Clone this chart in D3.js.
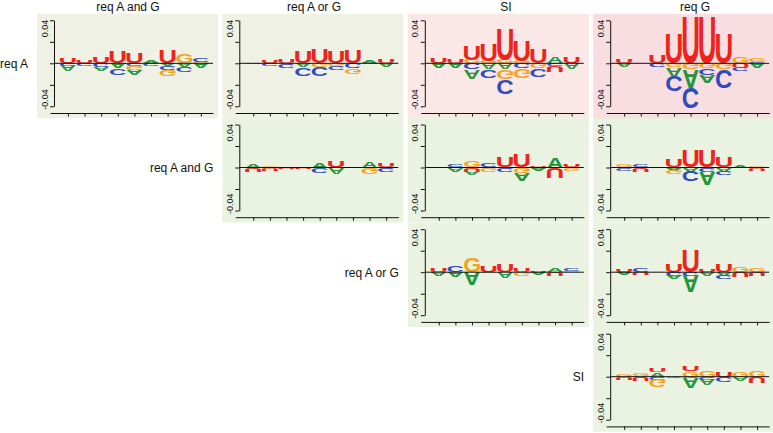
<!DOCTYPE html>
<html>
<head>
<meta charset="utf-8">
<script src="https://cdn.jsdelivr.net/npm/d3@7"></script>
<style>
  html, body { margin: 0; padding: 0; background: #ffffff; }
  svg { display: block; }
  text { font-family: "Liberation Sans", Arial, Helvetica, sans-serif; }
</style>
</head>
<body>
<svg id="chart" width="773" height="433"></svg>
<script>
// ---------------- data ----------------
const columnTitles = ["req A and G", "req A or G", "SI", "req G"];
const rowLabels = ["req A", "req A and G", "req A or G", "SI"];
const positions = [1, 2, 3, 4, 5, 6, 7, 8, 9];
const yTickValues = [-0.04, -0.02, 0, 0.02, 0.04];
const yTickLabels = ["-0.04", "", "", "", "0.04"];

// per-position letter differences (positive above axis, negative below)
const reqA_vs_reqAandG = [
  {U: 0.005, A: -0.006, C: -0.002},
  {C: -0.002, U: 0.002},
  {U: 0.006, A: -0.004, C: -0.003},
  {U: 0.011, A: -0.005, C: -0.006},
  {U: 0.010, G: -0.004, A: -0.005, C: -0.002},
  {A: 0.002, C: -0.002},
  {U: 0.0125, A: -0.002, C: -0.004, G: -0.006},
  {G: 0.009, A: -0.003, C: -0.005},
  {C: 0.003, G: 0.001, A: -0.005}
];
const reqA_vs_reqAorG = [
  {C: -0.001},
  {U: 0.002, C: -0.002},
  {U: 0.004, A: -0.001, C: -0.003},
  {U: 0.011, A: -0.004, C: -0.007},
  {U: 0.013, G: -0.003, C: -0.008},
  {U: 0.011, G: -0.002, C: -0.004},
  {U: 0.012, C: -0.005, G: -0.005},
  {A: 0.002, C: -0.001},
  {U: 0.003, A: -0.004}
];
const reqA_vs_SI = [
  {U: 0.005, A: -0.005},
  {U: 0.004, A: -0.005},
  {G: 0.003, U: 0.013, C: -0.006, A: -0.008},
  {G: 0.002, U: 0.015, A: -0.006, C: -0.007},
  {G: 0.003, U: 0.029, A: -0.006, G2: -0.009, C: -0.013},
  {G: 0.002, U: 0.019, C: -0.005, G2: -0.009},
  {U: 0.013, G: -0.005, C: -0.007},
  {A: 0.006, C: -0.002, U: -0.006},
  {U: 0.006, A: -0.006}
];
const reqA_vs_reqG = [
  {U: 0.0035, A: -0.004},
  {},
  {U: 0.0075, C: -0.004},
  {U: 0.028, G: -0.004, A: -0.008, C: -0.015},
  {U: 0.043, G: -0.006, A: -0.017, C: -0.020},
  {U: 0.043, G: -0.005, A: -0.007, C: -0.0055},
  {U: 0.028, G: -0.006, C: -0.017},
  {G: 0.006, U: -0.003, C: -0.004},
  {G: 0.004, C: 0.001, A: -0.005}
];
const reqAandG_vs_reqAorG = [
  {A: 0.003, U: -0.004},
  {G: 0.001, U: -0.002},
  {A: 0.001, U: -0.001},
  {U: -0.001},
  {A: 0.005, C: -0.005},
  {U: 0.006, A: -0.006},
  {},
  {A: 0.006, G: -0.006},
  {U: 0.003, C: -0.004}
];
const reqAandG_vs_SI = [
  {},
  {C: 0.002, A: -0.003},
  {G: 0.006, U: -0.003, A: -0.004},
  {C: 0.003, G: -0.003},
  {U: 0.009, C: -0.004},
  {U: 0.012, G: -0.005, A: -0.007},
  {U: 0.001, A: -0.002},
  {A: 0.010, U: -0.010},
  {U: 0.002, G: -0.002}
];
const reqAandG_vs_reqG = [
  {G: 0.002, C: -0.002},
  {C: 0.002, U: -0.004},
  {},
  {U: 0.007, G: -0.003, A: -0.002},
  {U: 0.016, A: -0.003, C: -0.010},
  {U: 0.016, C: -0.004, A: -0.012},
  {U: 0.009, A: -0.003, C: -0.004},
  {A: 0.002},
  {G: 0.001, U: -0.002}
];
const reqAorG_vs_SI = [
  {U: 0.004, A: -0.003},
  {C: 0.006, A: -0.005},
  {G: 0.013, A: -0.012},
  {U: 0.006, A: -0.001},
  {U: 0.007, A: -0.006},
  {U: 0.003, G: -0.004},
  {U: 0.001, A: -0.002},
  {A: 0.004, U: -0.003},
  {C: 0.002, G: 0.001}
];
const reqAorG_vs_reqG = [
  {U: 0.002, A: -0.002},
  {C: 0.003, U: -0.002},
  {},
  {U: 0.007, C: -0.003, A: -0.003},
  {U: 0.021, C: -0.003, A: -0.016},
  {U: 0.002, A: -0.003},
  {U: 0.007, A: -0.003, C: -0.004},
  {G: 0.005, U: -0.005},
  {G: 0.004, U: -0.004}
];
const SI_vs_reqG = [
  {G: 0.002, U: -0.002},
  {G: 0.002, A: 0.001, U: -0.003},
  {A: 0.004, U: 0.004, C: -0.002, G: -0.007},
  {C: -0.001},
  {G: 0.005, U: 0.005, C: -0.001, A: -0.009},
  {G: 0.006, C: -0.002, A: -0.006},
  {U: 0.005, C: -0.005},
  {G: 0.005, A: -0.004},
  {G: 0.006, U: -0.006}
];

// ---------------- layout / style ----------------
const axisX = [54, 239.3, 424.8, 610.2];
const zeroY = [63.3, 167.5, 272.2, 376.7];
const titleX = [128, 314, 506, 695];
const letterColor = {A: "#22963a", C: "#2f4bbd", G: "#f5a21e", U: "#ee231a"};

const panels = [
  {row: 0, col: 0, bg: "#eff1e4", data: reqA_vs_reqAandG},
  {row: 0, col: 1, bg: "#eff1e4", data: reqA_vs_reqAorG},
  {row: 0, col: 2, bg: "#fce7e7", data: reqA_vs_SI},
  {row: 0, col: 3, bg: "#f9dee1", data: reqA_vs_reqG},
  {row: 1, col: 1, bg: "#eaf3e2", data: reqAandG_vs_reqAorG},
  {row: 1, col: 2, bg: "#eaf3e2", data: reqAandG_vs_SI},
  {row: 1, col: 3, bg: "#eaf3e2", data: reqAandG_vs_reqG},
  {row: 2, col: 2, bg: "#eaf3e2", data: reqAorG_vs_SI},
  {row: 2, col: 3, bg: "#eaf3e2", data: reqAorG_vs_reqG},
  {row: 3, col: 3, bg: "#eaf3e2", data: SI_vs_reqG}
];

// glyph ink metrics
const FONT_PX = 100;
const glyphFont = `bold ${FONT_PX}px "Liberation Sans", Arial, sans-serif`;
const ctx = document.createElement("canvas").getContext("2d");
ctx.font = glyphFont;
const metrics = {};
["A", "C", "G", "U"].forEach(ch => {
  const m = ctx.measureText(ch);
  metrics[ch] = {
    left: m.actualBoundingBoxLeft,
    right: m.actualBoundingBoxRight,
    ascent: m.actualBoundingBoxAscent,
    descent: m.actualBoundingBoxDescent
  };
});

const svg = d3.select("#chart");

// column titles
svg.selectAll("text.coltitle").data(columnTitles).join("text")
  .attr("class", "coltitle")
  .attr("x", (d, i) => titleX[i])
  .attr("y", 11)
  .attr("text-anchor", "middle")
  .attr("font-size", 12)
  .attr("fill", "#111")
  .text(d => d);

panels.forEach(p => {
  const ax = axisX[p.col];
  const z = zeroY[p.row];
  const g = svg.append("g");

  const y = d3.scaleLinear().domain([-0.04, 0.04]).range([z + 43, z - 43]);
  const x = d3.scaleLinear().domain([-0.08, 9.73]).range([ax - 4, ax + 159]);

  g.append("rect")
    .attr("x", ax - 17).attr("y", z - 49.5)
    .attr("width", 181).attr("height", 104.5)
    .attr("fill", p.bg);

  // letters
  const lg = g.append("g");
  positions.forEach((pos, i) => {
    const entries = Object.entries(p.data[i] || {}).map(([k, v]) => ({ch: k[0], v}));
    const pos_ = entries.filter(e => e.v > 0).sort((a, b) => a.v - b.v);
    const neg_ = entries.filter(e => e.v < 0).sort((a, b) => b.v - a.v);
    const x0 = x(pos - 0.5) + 0.4;
    const w = x(pos + 0.5) - x(pos - 0.5) - 0.8;
    let acc = 0;
    pos_.forEach(e => {
      const top = y(acc + e.v), bot = y(acc);
      drawLetter(lg, e.ch, x0, top, w, bot - top, false);
      acc += e.v;
    });
    acc = 0;
    neg_.forEach(e => {
      const top = y(acc), bot = y(acc + e.v);
      drawLetter(lg, e.ch, x0, top, w, bot - top, true);
      acc += e.v;
    });
  });

  // zero line
  g.append("line")
    .attr("x1", ax).attr("x2", x(9.73))
    .attr("y1", y(0)).attr("y2", y(0))
    .attr("stroke", "#111").attr("stroke-width", 1);

  // y axis
  const yAxis = d3.axisLeft(y).tickValues(yTickValues).tickSize(4).tickSizeOuter(0)
    .tickFormat((d, i) => yTickLabels[i]);
  const yg = g.append("g").attr("transform", `translate(${ax},0)`).call(yAxis);
  yg.selectAll("path, line").attr("stroke", "#111");
  yg.selectAll("text")
    .attr("font-size", 9).attr("fill", "#111")
    .attr("x", null).attr("dy", null)
    .attr("text-anchor", d => d > 0 ? "end" : "start")
    .attr("dominant-baseline", "central")
    .attr("transform", d => `translate(-9.5,${d > 0 ? -1 : 3}) rotate(-90)`);

  // x axis
  const xAxis = d3.axisBottom(x).tickValues(positions).tickSize(3.5).tickSizeOuter(0).tickFormat("");
  const xg = g.append("g").attr("transform", `translate(0,${z + 49.7})`).call(xAxis);
  xg.selectAll("path, line").attr("stroke", "#111");
});

// row labels
svg.selectAll("text.rowlabel").data(rowLabels).join("text")
  .attr("class", "rowlabel")
  .attr("x", (d, i) => axisX[i] - 26)
  .attr("y", (d, i) => zeroY[i] + 4.5)
  .attr("text-anchor", "end")
  .attr("font-size", 12)
  .attr("fill", "#111")
  .text(d => d);

function drawLetter(parent, ch, x0, top, w, h, flip) {
  if (h < 0.4) return;
  const m = metrics[ch];
  const inkW = m.left + m.right, inkH = m.ascent + m.descent;
  const sx = w / inkW, sy = h / inkH;
  const tr = flip
    ? `translate(${x0},${top + h}) scale(${sx},${-sy}) translate(${m.left},${m.ascent})`
    : `translate(${x0},${top}) scale(${sx},${sy}) translate(${m.left},${m.ascent})`;
  parent.append("text")
    .attr("x", 0).attr("y", 0)
    .attr("font-size", FONT_PX)
    .attr("font-weight", "bold")
    .attr("fill", letterColor[ch])
    .attr("transform", tr)
    .text(ch);
}
</script>
</body>
</html>
